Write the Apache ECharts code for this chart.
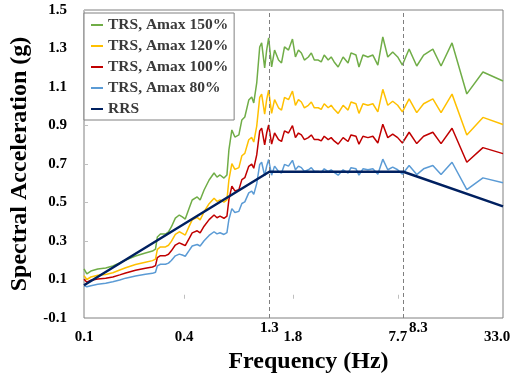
<!DOCTYPE html>
<html>
<head>
<meta charset="utf-8">
<script src="https://cdn.jsdelivr.net/npm/echarts@6/dist/echarts.min.js"></script>
<style>html,body{margin:0;padding:0;background:#fff}#c{width:517px;height:380px}</style>
</head>
<body>
<div id="c"></div>
<script>
// Frequencies (Hz) of the TRS curves
const freqs = [0.100,0.104,0.110,0.121,0.135,0.149,0.164,0.178,0.204,0.234,0.258,0.269,0.276,0.288,0.309,0.322,0.335,0.354,0.374,0.390,
0.406,0.429,0.447,0.479,0.499,0.527,0.565,0.605,0.630,0.657,0.694,0.723,0.743,0.774,0.807,0.853,0.889,0.926,0.978,1.019,
1.048,1.092,1.138,1.169,1.219,1.253,1.288,1.342,1.398,1.477,1.539,1.604,1.695,1.791,1.866,1.945,2.026,2.112,2.231,2.325,
2.423,2.559,2.667,2.779,2.937,3.060,3.189,3.370,3.609,3.865,4.027,4.313,4.495,4.750,5.088,5.450,5.837,6.252,6.697,7.171,
7.680,8.2,9.0,10,11,12.5,14,16.3,20,25,33];
const trs150 = [0.155,0.129,0.144,0.155,0.160,0.170,0.186,0.201,0.222,0.238,0.248,0.258,0.321,0.336,0.336,0.347,0.373,0.419,0.435,0.425,
0.414,0.471,0.513,0.529,0.513,0.565,0.617,0.653,0.632,0.643,0.627,0.643,0.773,0.877,0.840,0.851,0.929,0.944,1.032,1.048,
1.017,1.121,1.308,1.329,1.199,1.292,1.355,1.204,1.292,1.240,1.225,1.308,1.292,1.349,1.256,1.292,1.277,1.240,1.256,1.277,
1.240,1.240,1.230,1.266,1.240,1.256,1.230,1.204,1.256,1.225,1.277,1.266,1.204,1.266,1.256,1.266,1.214,1.360,1.256,1.282,
1.256,1.214,1.297,1.209,1.266,1.297,1.209,1.329,1.064,1.178,1.131];
const trs120 = [0.120,0.100,0.113,0.122,0.126,0.135,0.149,0.161,0.178,0.190,0.198,0.206,0.257,0.269,0.269,0.278,0.298,0.335,0.348,0.340,
0.331,0.377,0.410,0.423,0.410,0.452,0.494,0.522,0.506,0.514,0.502,0.514,0.618,0.702,0.672,0.681,0.743,0.755,0.826,0.838,
0.814,0.897,1.046,1.063,0.959,1.034,1.084,0.963,1.034,0.992,0.980,1.046,1.034,1.079,1.005,1.034,1.022,0.992,1.005,1.022,
0.992,0.992,0.984,1.013,0.992,1.005,0.984,0.963,1.005,0.980,1.022,1.013,0.963,1.013,1.005,1.013,0.971,1.088,1.005,1.026,
1.005,0.971,1.038,0.967,1.013,1.038,0.967,1.063,0.851,0.942,0.905];
const trs100 = [0.101,0.086,0.096,0.103,0.107,0.113,0.124,0.134,0.148,0.159,0.165,0.172,0.214,0.224,0.224,0.231,0.249,0.279,0.290,0.283,
0.276,0.314,0.342,0.353,0.342,0.377,0.411,0.435,0.421,0.429,0.418,0.429,0.515,0.585,0.560,0.567,0.619,0.629,0.688,0.699,
0.678,0.747,0.872,0.886,0.799,0.861,0.903,0.803,0.861,0.827,0.817,0.872,0.861,0.899,0.837,0.861,0.851,0.827,0.837,0.851,
0.827,0.827,0.820,0.844,0.827,0.837,0.820,0.803,0.837,0.817,0.851,0.844,0.803,0.844,0.837,0.844,0.809,0.907,0.837,0.855,
0.837,0.809,0.865,0.806,0.844,0.865,0.806,0.886,0.709,0.785,0.754];
const trs80 = [0.068,0.062,0.068,0.075,0.080,0.088,0.097,0.107,0.118,0.127,0.132,0.138,0.171,0.179,0.179,0.185,0.199,0.223,0.232,0.227,
0.221,0.251,0.274,0.282,0.274,0.301,0.329,0.348,0.337,0.343,0.334,0.343,0.412,0.468,0.448,0.454,0.495,0.503,0.550,0.559,
0.542,0.598,0.698,0.709,0.639,0.689,0.723,0.642,0.689,0.661,0.653,0.698,0.689,0.719,0.670,0.689,0.681,0.661,0.670,0.681,
0.661,0.661,0.656,0.675,0.661,0.670,0.656,0.642,0.670,0.653,0.681,0.675,0.642,0.675,0.670,0.675,0.647,0.725,0.670,0.684,
0.670,0.647,0.692,0.645,0.675,0.692,0.645,0.709,0.567,0.628,0.603];
// Required response spectrum
const rrsFreqs = [0.1, 1.3, 8.3, 33];
const rrsValues = [0.07, 0.66, 0.66, 0.48];
// Reference dashed lines
const markFreqs = [1.3, 8.3];
// X tick labels
const xTickValues = [0.1, 0.4, 1.3, 1.8, 7.7, 8.3, 33.0];
const xTickStyle = ['lo', 'lo', 'hi', 'lo', 'lo', 'hiR', 'loL'];
const xMinorTicks = [0.4, 1.8, 7.7];
const seriesNames = ['TRS, Amax 150%', 'TRS, Amax 120%', 'TRS, Amax 100%', 'TRS, Amax 80%', 'RRS'];
const seriesColors = ['#70ad47', '#ffc000', '#c00000', '#5b9bd5', '#002060'];

const FONT = 'Liberation Serif';
const pair = (xs, ys) => xs.map((x, i) => [x, ys[i]]);
const trsData = [trs150, trs120, trs100, trs80];

const series = trsData.map((vals, i) => ({
  name: seriesNames[i], type: 'line', showSymbol: false, symbol: 'none',
  data: pair(freqs, vals),
  lineStyle: { color: seriesColors[i], width: 1.5 },
  itemStyle: { color: seriesColors[i] }
}));
series.push({
  name: seriesNames[4], type: 'line', showSymbol: false, symbol: 'none',
  data: pair(rrsFreqs, rrsValues),
  lineStyle: { color: seriesColors[4], width: 2.5 },
  itemStyle: { color: seriesColors[4] },
  markLine: {
    silent: true, symbol: 'none', label: { show: false },
    lineStyle: { color: '#7f7f7f', width: 1, type: [4, 3] },
    data: markFreqs.map(f => ({ xAxis: f }))
  },
  z: 5
});

const chart = echarts.init(document.getElementById('c'));
chart.setOption({
  animation: false,
  grid: { left: 81, right: 14, top: 10, bottom: 62, show: true, borderColor: '#808080', borderWidth: 1, backgroundColor: 'transparent' },
  legend: {
    orient: 'vertical', left: 84, top: 13,
    data: seriesNames,
    icon: 'rect', itemWidth: 12, itemHeight: 2, itemGap: 5,
    padding: [4, 6, 3, 7],
    borderColor: '#808080', borderWidth: 1, backgroundColor: '#fff',
    textStyle: { fontFamily: FONT, fontWeight: 'bold', fontSize: 15.5, color: '#3a3a3a', lineHeight: 16 }
  },
  xAxis: {
    type: 'log', logBase: 10, min: 0.1, max: 33,
    name: 'Frequency (Hz)', nameLocation: 'middle', nameGap: 31,
    nameTextStyle: { fontFamily: FONT, fontWeight: 'bold', fontSize: 24, color: '#000', padding: [0, 0, 0, 30] },
    axisLine: { show: false },
    splitLine: { show: false },
    minorTick: { show: false },
    axisTick: { show: true, inside: true, length: 4, lineStyle: { color: '#bfbfbf' }, customValues: xMinorTicks },
    axisLabel: {
      customValues: xTickValues,
      margin: 3,
      fontFamily: FONT, fontWeight: 'bold', fontSize: 15, color: '#000',
      formatter: function (v) {
        let best = 0, bd = Infinity;
        xTickValues.forEach((t, i) => { const d = Math.abs(Math.log(t) - Math.log(v)); if (d < bd) { bd = d; best = i; } });
        return '{' + xTickStyle[best] + '|' + xTickValues[best].toFixed(1) + '}';
      },
      rich: {
        lo: { fontFamily: FONT, fontWeight: 'bold', fontSize: 15, color: '#000', padding: [9, 0, 0, 0] },
        loL: { fontFamily: FONT, fontWeight: 'bold', fontSize: 15, color: '#000', padding: [9, 12, 0, 0] },
        hi: { fontFamily: FONT, fontWeight: 'bold', fontSize: 15, color: '#000', padding: [0, 0, 0, 0] },
        hiR: { fontFamily: FONT, fontWeight: 'bold', fontSize: 15, color: '#000', padding: [0, 0, 0, 30] }
      }
    }
  },
  yAxis: {
    type: 'value', min: -0.1, max: 1.5, interval: 0.2,
    name: 'Spectral Acceleration (g)', nameLocation: 'middle', nameGap: 52,
    nameTextStyle: { fontFamily: FONT, fontWeight: 'bold', fontSize: 24, color: '#000' },
    axisLine: { show: false },
    splitLine: { show: false },
    axisTick: { show: true, inside: true, length: 4, lineStyle: { color: '#bfbfbf' } },
    axisLabel: {
      margin: 17, fontFamily: FONT, fontWeight: 'bold', fontSize: 15, color: '#000',
      formatter: v => v.toFixed(1)
    }
  },
  series: series
});
</script>
</body>
</html>
